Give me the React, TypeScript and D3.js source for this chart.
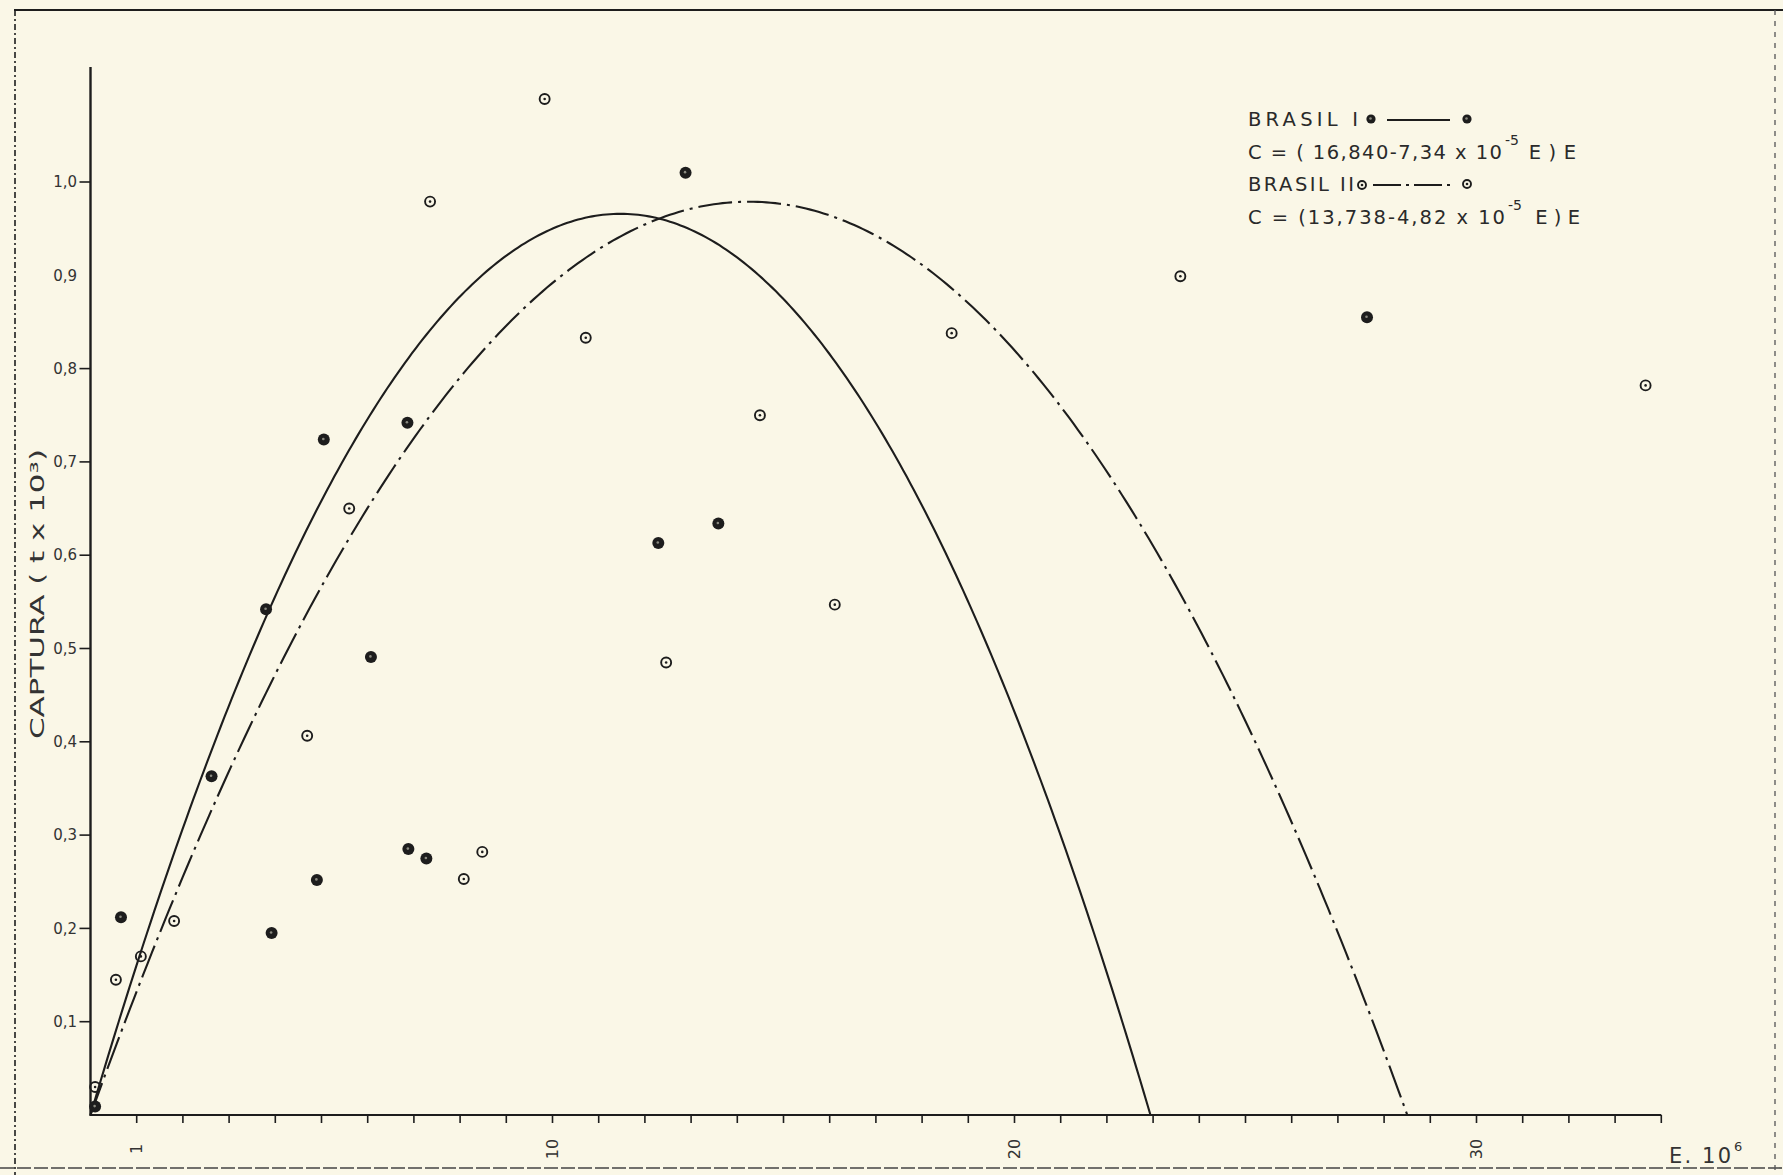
import React, { useEffect } from 'react';
import * as d3 from 'd3';

const W = 1783;
const H = 1175;

// Brasil I (filled markers) — effort E (x 10^4) and catch C
const brasil1E = [0.10, 0.66, 2.62, 3.80, 3.92, 4.90, 5.05, 6.07, 6.86, 6.88, 7.27, 12.29, 12.88, 13.59, 27.63];
const brasil1C = [0.009, 0.212, 0.363, 0.542, 0.195, 0.252, 0.724, 0.491, 0.742, 0.285, 0.275, 0.613, 1.010, 0.634, 0.855];

// Brasil II (open markers)
const brasil2E = [0.10, 0.55, 1.09, 1.81, 4.69, 5.60, 7.35, 8.08, 8.48, 9.83, 10.72, 12.46, 14.49, 16.11, 18.64, 23.59, 33.66];
const brasil2C = [0.030, 0.145, 0.170, 0.208, 0.4065, 0.650, 0.979, 0.253, 0.282, 1.089, 0.833, 0.485, 0.750, 0.547, 0.838, 0.899, 0.782];

// Fitted Schaefer curves printed in the legend: C = (a - b E) E
const fitNames = ['BRASIL I', 'BRASIL II'];
const fitA = [16.840, 13.738];
const fitB = [7.34e-5, 4.82e-5];
const fitEquations = ['C = ( 16,840-7,34 x 10', 'C = (13,738-4,82 x 10'];
const fitEquationTails = [' E ) E', ' E ) E'];

const xTickValues = d3.range(1, 35);
const xLabelValues = [1, 10, 20, 30];
const yTickValues = [0.1, 0.2, 0.3, 0.4, 0.5, 0.6, 0.7, 0.8, 0.9, 1.0];
const yTickLabels = ['0,1', '0,2', '0,3', '0,4', '0,5', '0,6', '0,7', '0,8', '0,9', '1,0'];

const INK = '#1d1d1d';
const PAPER = '#faf7e7';
const FONT = "'DejaVu Sans', 'Liberation Sans', sans-serif";

export default function App() {
  useEffect(() => {
    document.body.style.margin = '0';
    document.body.style.background = PAPER;
  }, []);

  const x = d3.scaleLinear().domain([0, 34]).range([90.5, 1661.3]);
  const y = d3.scaleLinear().domain([0, 1]).range([1115, 182]);

  const curve = (i: number) => {
    const a = fitA[i];
    const b = fitB[i] * 1e4;
    const end = a / b;
    const pts: [number, number][] = d3.range(0, end, end / 300).map((e) => [e, (e * (a - b * e)) / 100]);
    pts.push([end, 0]);
    return d3
      .line<[number, number]>()
      .x((d) => x(d[0]))
      .y((d) => y(d[1]))
      .curve(d3.curveLinear)(pts) as string;
  };

  const filled = (cx: number, cy: number, k: string | number, r = 6) => (
    <g key={k}>
      <circle cx={cx} cy={cy} r={r} fill={INK} />
      <circle cx={cx - 0.5} cy={cy - 0.5} r={1.3} fill="#8a8a80" />
    </g>
  );
  const open = (cx: number, cy: number, k: string | number, r = 5) => (
    <g key={k}>
      <circle cx={cx} cy={cy} r={r} fill="none" stroke={INK} strokeWidth={1.9} />
      <circle cx={cx} cy={cy} r={1.3} fill={INK} />
    </g>
  );

  const y0 = y(0);
  const yTop = 67;

  return (
    <svg width={W} height={H} style={{ position: 'absolute', left: 0, top: 0, background: PAPER }} xmlns="http://www.w3.org/2000/svg">
      <rect x={0} y={0} width={W} height={H} fill={PAPER} />

      {/* paper border of the scanned sheet */}
      <line x1={14} y1={10} x2={W} y2={10} stroke={INK} strokeWidth={2} />
      <line x1={15} y1={10} x2={15} y2={H} stroke={INK} strokeWidth={1.6} strokeDasharray="6 3 2 3" />
      <line x1={0} y1={1168} x2={W} y2={1168} stroke="#444" strokeWidth={1.6} strokeDasharray="14 3" />
      <line x1={1775} y1={10} x2={1775} y2={H} stroke="#555" strokeWidth={1.3} strokeDasharray="5 6" />

      {/* y axis */}
      <line x1={x(0)} y1={y0 + 1} x2={x(0)} y2={yTop} stroke={INK} strokeWidth={2.4} />
      {yTickValues.map((v, i) =>
        i === 8 ? null : (
          <line key={'yt' + i} x1={x(0) - 11} x2={x(0)} y1={y(v)} y2={y(v)} stroke={INK} strokeWidth={1.6} />
        )
      )}
      {yTickValues.map((v, i) => (
        <text key={'yl' + i} x={77} y={y(v)} dy="0.35em" textAnchor="end" fontFamily={FONT} fontSize={15} fill="#333">
          {yTickLabels[i]}
        </text>
      ))}
      <text
        transform={`translate(44, 594) rotate(-90)`}
        textAnchor="middle"
        fontFamily={FONT}
        fontSize={19}
        fill="#333"
        textLength={290}
        lengthAdjust="spacingAndGlyphs"
      >
        CAPTURA ( t x 10³)
      </text>

      {/* x axis */}
      <line x1={x(0)} y1={y0} x2={x(34)} y2={y0} stroke={INK} strokeWidth={2.2} />
      {xTickValues.map((v) => (
        <line key={'xt' + v} x1={x(v)} x2={x(v)} y1={y0} y2={y0 + 8} stroke={INK} strokeWidth={1.6} />
      ))}
      {xLabelValues.map((v) => (
        <text
          key={'xl' + v}
          transform={`translate(${x(v)}, 1149) rotate(-90)`}
          textAnchor="middle"
          dy="0.35em"
          fontFamily={FONT}
          fontSize={16}
          fill="#333"
        >
          {String(v)}
        </text>
      ))}
      <text x={1669} y={1163} fontFamily={FONT} fontSize={21} fill="#333" textLength={62} lengthAdjust="spacing">
        E. 10
      </text>
      <text x={1734} y={1151} fontFamily={FONT} fontSize={13} fill="#333">
        6
      </text>

      {/* fitted curves */}
      <path d={curve(0)} fill="none" stroke={INK} strokeWidth={2.1} />
      <path d={curve(1)} fill="none" stroke={INK} strokeWidth={2.1} strokeDasharray="34 6 3 6" />

      {/* data points */}
      {brasil1E.map((e, i) => filled(x(e), y(brasil1C[i]), 'b1' + i))}
      {brasil2E.map((e, i) => open(x(e), y(brasil2C[i]), 'b2' + i))}

      {/* legend */}
      <g fontFamily={FONT} fill="#2a2a2a">
        <text x={1248} y={126} fontSize={19.5} textLength={110} lengthAdjust="spacing">
          {fitNames[0]}
        </text>
        {filled(1371, 119, 'lg1a', 4.6)}
        <line x1={1387} x2={1450} y1={120} y2={120} stroke={INK} strokeWidth={1.8} />
        {filled(1467, 119, 'lg1b', 4.6)}

        <text x={1248} y={159} fontSize={19.5} textLength={254} lengthAdjust="spacing">
          {fitEquations[0]}
        </text>
        <text x={1505} y={145} fontSize={14}>-5</text>
        <text x={1522} y={159} fontSize={19.5} textLength={54} lengthAdjust="spacing" style={{ whiteSpace: 'pre' }}>
          {fitEquationTails[0]}
        </text>

        <text x={1248} y={191} fontSize={19.5} textLength={106} lengthAdjust="spacing">
          {fitNames[1]}
        </text>
        {open(1362, 185, 'lg2a', 4)}
        <line x1={1373} x2={1450} y1={185} y2={185} stroke={INK} strokeWidth={1.8} strokeDasharray="28 5 3 5" />
        {open(1467, 184, 'lg2b', 4)}

        <text x={1248} y={224} fontSize={19.5} textLength={257} lengthAdjust="spacing">
          {fitEquations[1]}
        </text>
        <text x={1508} y={210} fontSize={14}>-5</text>
        <text x={1529} y={224} fontSize={19.5} textLength={51} lengthAdjust="spacing" style={{ whiteSpace: 'pre' }}>
          {fitEquationTails[1]}
        </text>
      </g>
    </svg>
  );
}
